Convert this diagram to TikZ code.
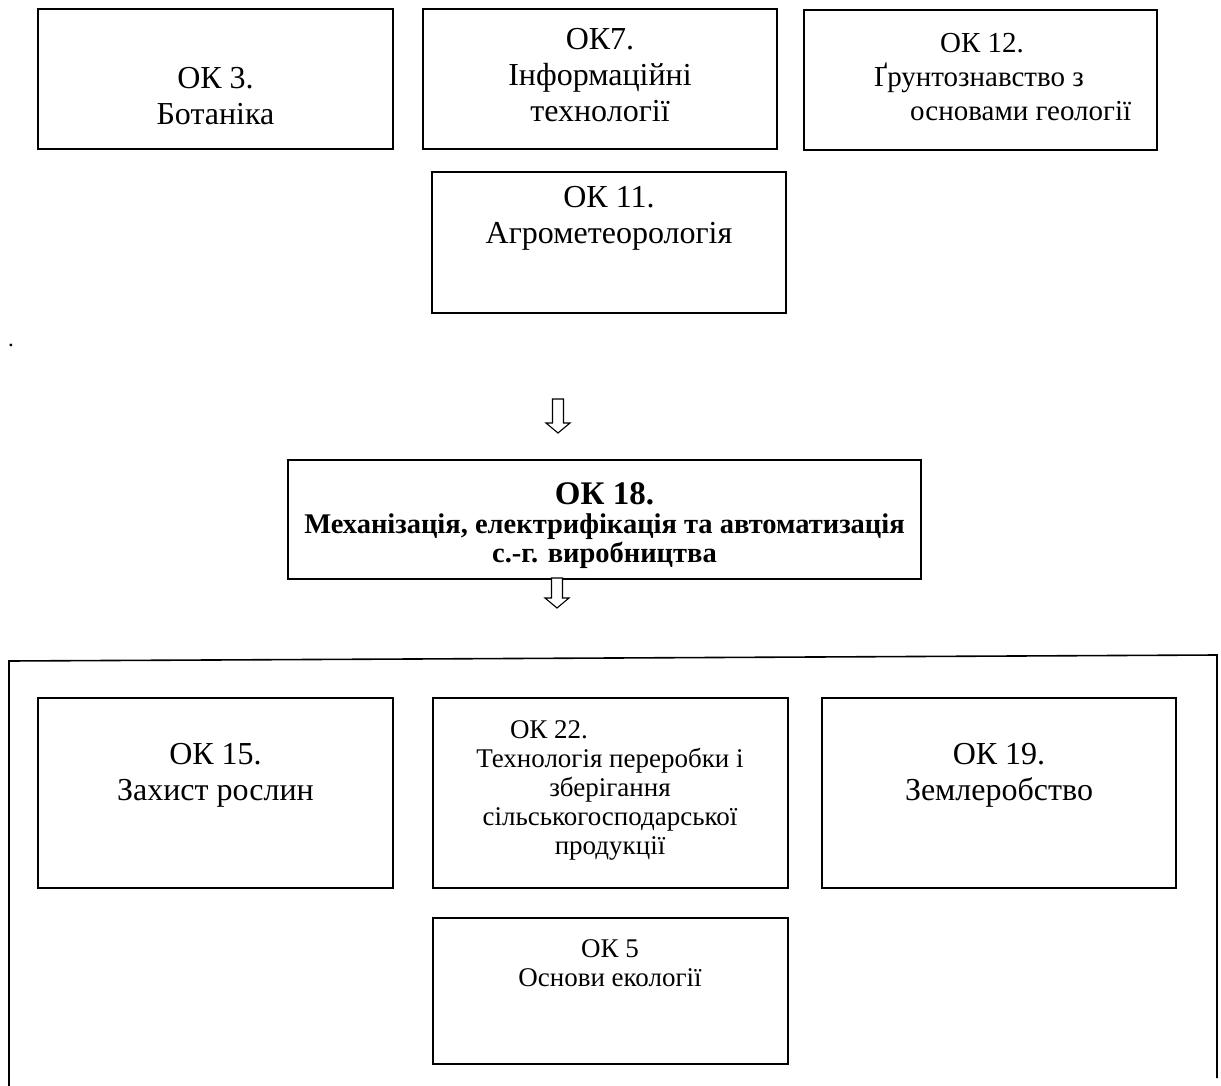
\documentclass[tikz,border=0pt]{standalone}
\usepackage{fontspec}
\setmainfont{Liberation Serif}
\usetikzlibrary{positioning}

\tikzset{
  box/.style={draw, line width=1.4pt, inner sep=0pt},
  frame/.style={line width=1.6pt},
  big/.style={align=center, inner sep=0pt, font=\fontsize{32}{36}\selectfont},
  small/.style={align=center, inner sep=0pt, font=\fontsize{27}{29}\selectfont},
  pics/hollow/.style={code={
    \draw[line width=1.1pt, fill=white] (-5.5,0) -- (-5.5,#1) -- (-12,#1) -- (0,#1+10)
      -- (12,#1) -- (5.5,#1) -- (5.5,0) -- cycle;}}
}

\begin{document}
\begin{tikzpicture}[x=1pt, y=-1pt]
    \useasboundingbox (0,0) rectangle (1221,1086);

    % Upper row of boxes
    \node[box, minimum width=355pt, minimum height=140pt] (ok3)  at (215.5,79) {};
    \node[box, minimum width=354pt, minimum height=140pt] (ok7)  at (600,79) {};
    \node[box, minimum width=353pt, minimum height=140pt] (ok12) at (980.5,80) {};
    \node[box, minimum width=354pt, minimum height=141pt] (ok11) at (609,242.5) {};

    \node[big] (ok3t) at (215.5,96) {ОК 3.\\Ботаніка};
    \node[big] (ok7t) at (600,75) {ОК7.\\Інформаційні\\технології};
    \node[big, align=left, anchor=west, font=\fontsize{29}{34}\selectfont] (ok12t) at (874,77)
        {\hspace*{66pt}ОК 12.\\Ґрунтознавство з\\\hspace*{36pt}основами геології};
    \node[big] (ok11t) at (609,218) {ОК 11.\\Агрометеорологія};

    % Stray dot
    \node[inner sep=0pt, font=\fontsize{23}{27}\selectfont] (dot) at (11,345) {.};

    % Main box
    \node[box, minimum width=633pt, minimum height=119pt] (ok18) at (604.5,519.5) {};
    \node[align=center, inner sep=0pt, font=\bfseries\fontsize{28.5}{29}\selectfont] (ok18t) at (604.5,526)
        {{\fontsize{33}{33}\selectfont ОК 18.}\\Механізація, електрифікація та автоматизація\\с.-г. виробництва};

    % Arrows
    \coordinate (a1) at (558,399);
    \coordinate (a2) at (557,578);
    \pic at (a1) {hollow=24};
    \pic at (a2) {hollow=20};

    % Outer frame
    \draw[frame] (9,1086) -- (9,661) -- (1217,655) -- (1217,1078);

    % Lower row of boxes
    \node[box, minimum width=355pt, minimum height=190pt] (ok15) at (215.5,793) {};
    \node[box, minimum width=355pt, minimum height=190pt] (ok22) at (610.5,793) {};
    \node[box, minimum width=354pt, minimum height=190pt] (ok19) at (999,793) {};
    \node[box, minimum width=355pt, minimum height=146pt] (ok5)  at (610.5,991) {};

    \node[big] (ok15t) at (215.5,775) {ОК 15.\\Захист рослин};
    \node[small] (ok22t) at (610,790) {ОК 22.\hspace*{122pt}\\Технологія переробки і\\зберігання\\сільськогосподарської\\продукції};
    \node[big] (ok19t) at (999,775) {ОК 19.\\Землеробство};
    \node[small] (ok5t) at (610,963) {ОК 5\\Основи екології};
\end{tikzpicture}
\end{document}
